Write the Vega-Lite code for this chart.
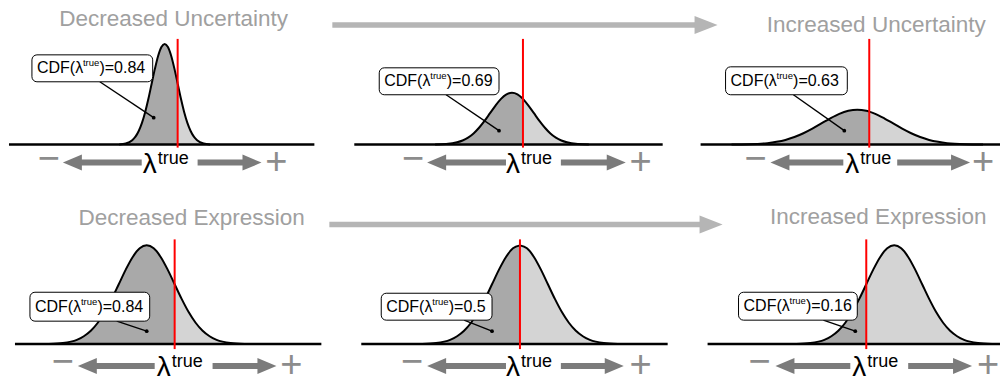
{
"$schema": "https://vega.github.io/schema/vega-lite/v6.json",
"width": 1002, "height": 385,
"autosize": {"type": "fit", "contains": "padding"},
"padding": 0,
"background": "white",
"config": {"view": {"stroke": null}, "axis": {"disable": true}, "legend": {"disable": true}, "font": "Liberation Sans"},
"datasets": {
"curves": [
{"c":1,"s":"L","x":119.5,"y":240.2,"b":240},{"c":1,"s":"L","x":126,"y":241.1,"b":240},{"c":1,"s":"L","x":132.5,"y":244.4,"b":240},{"c":1,"s":"L","x":135.75,"y":248,"b":240},{"c":1,"s":"L","x":139,"y":253.7,"b":240},{"c":1,"s":"L","x":142.25,"y":261.8,"b":240},{"c":1,"s":"L","x":145.5,"y":272.8,"b":240},{"c":1,"s":"L","x":148.75,"y":286.2,"b":240},{"c":1,"s":"L","x":152,"y":301.3,"b":240},{"c":1,"s":"L","x":155.25,"y":316.2,"b":240},{"c":1,"s":"L","x":158.5,"y":329.1,"b":240},{"c":1,"s":"L","x":161.75,"y":337.9,"b":240},{"c":1,"s":"L","x":165,"y":341,"b":240},{"c":1,"s":"L","x":168.25,"y":337.9,"b":240},{"c":1,"s":"L","x":171.5,"y":329.1,"b":240},{"c":1,"s":"L","x":174.75,"y":316.2,"b":240},{"c":1,"s":"L","x":178,"y":301.3,"b":240},
{"c":1,"s":"R","x":178,"y":301.3,"b":240},{"c":1,"s":"R","x":181.25,"y":286.2,"b":240},{"c":1,"s":"R","x":184.5,"y":272.8,"b":240},{"c":1,"s":"R","x":187.75,"y":261.8,"b":240},{"c":1,"s":"R","x":191,"y":253.7,"b":240},{"c":1,"s":"R","x":194.25,"y":248,"b":240},{"c":1,"s":"R","x":197.5,"y":244.4,"b":240},{"c":1,"s":"R","x":204,"y":241.1,"b":240},{"c":1,"s":"R","x":210.5,"y":240.2,"b":240},
{"c":2,"s":"L","x":436,"y":240.1,"b":240},{"c":2,"s":"L","x":447,"y":240.6,"b":240},{"c":2,"s":"L","x":458,"y":242.3,"b":240},{"c":2,"s":"L","x":463.5,"y":244.1,"b":240},{"c":2,"s":"L","x":469,"y":247,"b":240},{"c":2,"s":"L","x":474.5,"y":251.2,"b":240},{"c":2,"s":"L","x":480,"y":256.9,"b":240},{"c":2,"s":"L","x":485.5,"y":263.8,"b":240},{"c":2,"s":"L","x":491,"y":271.5,"b":240},{"c":2,"s":"L","x":496.5,"y":279.2,"b":240},{"c":2,"s":"L","x":502,"y":285.9,"b":240},{"c":2,"s":"L","x":507.5,"y":290.4,"b":240},{"c":2,"s":"L","x":513,"y":292,"b":240},{"c":2,"s":"L","x":518.5,"y":290.4,"b":240},{"c":2,"s":"L","x":524,"y":285.9,"b":240},
{"c":2,"s":"R","x":524,"y":285.9,"b":240},{"c":2,"s":"R","x":529.5,"y":279.2,"b":240},{"c":2,"s":"R","x":535,"y":271.5,"b":240},{"c":2,"s":"R","x":540.5,"y":263.8,"b":240},{"c":2,"s":"R","x":546,"y":256.9,"b":240},{"c":2,"s":"R","x":551.5,"y":251.2,"b":240},{"c":2,"s":"R","x":557,"y":247,"b":240},{"c":2,"s":"R","x":562.5,"y":244.1,"b":240},{"c":2,"s":"R","x":568,"y":242.3,"b":240},{"c":2,"s":"R","x":579,"y":240.6,"b":240},{"c":2,"s":"R","x":590,"y":240.1,"b":240},
{"c":3,"s":"L","x":733,"y":240.1,"b":240},{"c":3,"s":"L","x":751,"y":240.4,"b":240},{"c":3,"s":"L","x":769,"y":241.5,"b":240},{"c":3,"s":"L","x":778,"y":242.8,"b":240},{"c":3,"s":"L","x":787,"y":244.7,"b":240},{"c":3,"s":"L","x":796,"y":247.6,"b":240},{"c":3,"s":"L","x":805,"y":251.4,"b":240},{"c":3,"s":"L","x":814,"y":256,"b":240},{"c":3,"s":"L","x":823,"y":261.2,"b":240},{"c":3,"s":"L","x":832,"y":266.4,"b":240},{"c":3,"s":"L","x":841,"y":270.9,"b":240},{"c":3,"s":"L","x":850,"y":273.9,"b":240},{"c":3,"s":"L","x":859,"y":275,"b":240},{"c":3,"s":"L","x":868,"y":273.9,"b":240},{"c":3,"s":"L","x":871,"y":273.1,"b":240},
{"c":3,"s":"R","x":871,"y":273.1,"b":240},{"c":3,"s":"R","x":877,"y":270.9,"b":240},{"c":3,"s":"R","x":886,"y":266.4,"b":240},{"c":3,"s":"R","x":895,"y":261.2,"b":240},{"c":3,"s":"R","x":904,"y":256,"b":240},{"c":3,"s":"R","x":913,"y":251.4,"b":240},{"c":3,"s":"R","x":922,"y":247.6,"b":240},{"c":3,"s":"R","x":931,"y":244.7,"b":240},{"c":3,"s":"R","x":940,"y":242.8,"b":240},{"c":3,"s":"R","x":949,"y":241.5,"b":240},{"c":3,"s":"R","x":967,"y":240.4,"b":240},{"c":3,"s":"R","x":985,"y":240.1,"b":240},
{"c":4,"s":"L","x":49,"y":40.2,"b":40},{"c":4,"s":"L","x":63,"y":41.1,"b":40},{"c":4,"s":"L","x":77,"y":44.3,"b":40},{"c":4,"s":"L","x":84,"y":47.9,"b":40},{"c":4,"s":"L","x":91,"y":53.4,"b":40},{"c":4,"s":"L","x":98,"y":61.4,"b":40},{"c":4,"s":"L","x":105,"y":72.1,"b":40},{"c":4,"s":"L","x":112,"y":85.3,"b":40},{"c":4,"s":"L","x":119,"y":100,"b":40},{"c":4,"s":"L","x":126,"y":114.7,"b":40},{"c":4,"s":"L","x":133,"y":127.4,"b":40},{"c":4,"s":"L","x":140,"y":136,"b":40},{"c":4,"s":"L","x":147,"y":139,"b":40},{"c":4,"s":"L","x":154,"y":136,"b":40},{"c":4,"s":"L","x":161,"y":127.4,"b":40},{"c":4,"s":"L","x":168,"y":114.7,"b":40},{"c":4,"s":"L","x":175,"y":100,"b":40},
{"c":4,"s":"R","x":175,"y":100,"b":40},{"c":4,"s":"R","x":182,"y":85.3,"b":40},{"c":4,"s":"R","x":189,"y":72.1,"b":40},{"c":4,"s":"R","x":196,"y":61.4,"b":40},{"c":4,"s":"R","x":203,"y":53.4,"b":40},{"c":4,"s":"R","x":210,"y":47.9,"b":40},{"c":4,"s":"R","x":217,"y":44.3,"b":40},{"c":4,"s":"R","x":231,"y":41.1,"b":40},{"c":4,"s":"R","x":245,"y":40.2,"b":40},
{"c":5,"s":"L","x":423,"y":40.2,"b":40},{"c":5,"s":"L","x":437,"y":41.1,"b":40},{"c":5,"s":"L","x":451,"y":44.3,"b":40},{"c":5,"s":"L","x":458,"y":47.9,"b":40},{"c":5,"s":"L","x":465,"y":53.4,"b":40},{"c":5,"s":"L","x":472,"y":61.4,"b":40},{"c":5,"s":"L","x":479,"y":72.1,"b":40},{"c":5,"s":"L","x":486,"y":85.3,"b":40},{"c":5,"s":"L","x":493,"y":100,"b":40},{"c":5,"s":"L","x":500,"y":114.7,"b":40},{"c":5,"s":"L","x":507,"y":127.4,"b":40},{"c":5,"s":"L","x":514,"y":136,"b":40},{"c":5,"s":"L","x":521,"y":139,"b":40},
{"c":5,"s":"R","x":521,"y":139,"b":40},{"c":5,"s":"R","x":528,"y":136,"b":40},{"c":5,"s":"R","x":535,"y":127.4,"b":40},{"c":5,"s":"R","x":542,"y":114.7,"b":40},{"c":5,"s":"R","x":549,"y":100,"b":40},{"c":5,"s":"R","x":556,"y":85.3,"b":40},{"c":5,"s":"R","x":563,"y":72.1,"b":40},{"c":5,"s":"R","x":570,"y":61.4,"b":40},{"c":5,"s":"R","x":577,"y":53.4,"b":40},{"c":5,"s":"R","x":584,"y":47.9,"b":40},{"c":5,"s":"R","x":591,"y":44.3,"b":40},{"c":5,"s":"R","x":605,"y":41.1,"b":40},{"c":5,"s":"R","x":619,"y":40.2,"b":40},
{"c":6,"s":"L","x":798,"y":40.2,"b":40},{"c":6,"s":"L","x":812,"y":41.1,"b":40},{"c":6,"s":"L","x":826,"y":44.3,"b":40},{"c":6,"s":"L","x":833,"y":47.9,"b":40},{"c":6,"s":"L","x":840,"y":53.4,"b":40},{"c":6,"s":"L","x":847,"y":61.4,"b":40},{"c":6,"s":"L","x":854,"y":72.1,"b":40},{"c":6,"s":"L","x":861,"y":85.3,"b":40},{"c":6,"s":"L","x":868,"y":100,"b":40},
{"c":6,"s":"R","x":868,"y":100,"b":40},{"c":6,"s":"R","x":875,"y":114.7,"b":40},{"c":6,"s":"R","x":882,"y":127.4,"b":40},{"c":6,"s":"R","x":889,"y":136,"b":40},{"c":6,"s":"R","x":896,"y":139,"b":40},{"c":6,"s":"R","x":903,"y":136,"b":40},{"c":6,"s":"R","x":910,"y":127.4,"b":40},{"c":6,"s":"R","x":917,"y":114.7,"b":40},{"c":6,"s":"R","x":924,"y":100,"b":40},{"c":6,"s":"R","x":931,"y":85.3,"b":40},{"c":6,"s":"R","x":938,"y":72.1,"b":40},{"c":6,"s":"R","x":945,"y":61.4,"b":40},{"c":6,"s":"R","x":952,"y":53.4,"b":40},{"c":6,"s":"R","x":959,"y":47.9,"b":40},{"c":6,"s":"R","x":966,"y":44.3,"b":40},{"c":6,"s":"R","x":980,"y":41.1,"b":40},{"c":6,"s":"R","x":994,"y":40.2,"b":40}
],
"panels": [
{"c":1,"base":240,"bx1":9,"bx2":315,"red":178,"rt":346,"rb":237,"lx1":32,"lx2":153,"ly1":330,"ly2":303,"lym":316.5,"t1":"CDF(λ","t2":"true","t3":")=0.84","px1":100,"py1":303,"px2":154,"py2":267,"ay":222,"lamy":212,"truey":221,"mx":49,"lh":72.5,"ls2":142,"lam":143,"tr":158,"rs1":198,"rh":252.5,"plx":277,"minus":"−","plus":"+","lambda":"λ"},
{"c":2,"base":240,"bx1":355,"bx2":664,"red":524,"rt":346,"rb":237,"lx1":380,"lx2":500,"ly1":317,"ly2":290,"lym":303.5,"t1":"CDF(λ","t2":"true","t3":")=0.69","px1":447,"py1":290,"px2":500,"py2":254,"ay":222,"lamy":212,"truey":221,"mx":414,"lh":437.5,"ls2":507,"lam":507,"tr":522,"rs1":562,"rh":617.5,"plx":642,"minus":"−","plus":"+","lambda":"λ"},
{"c":3,"base":240,"bx1":702,"bx2":1002,"red":871,"rt":346,"rb":237,"lx1":727,"lx2":849,"ly1":318,"ly2":290,"lym":304,"t1":"CDF(λ","t2":"true","t3":")=0.63","px1":795,"py1":290,"px2":846,"py2":254,"ay":222,"lamy":212,"truey":221,"mx":757,"lh":781.5,"ls2":845,"lam":847,"tr":862,"rs1":899,"rh":962.5,"plx":985,"minus":"−","plus":"+","lambda":"λ"},
{"c":4,"base":40,"bx1":15,"bx2":322,"red":175,"rt":145,"rb":35,"lx1":30,"lx2":150,"ly1":92,"ly2":63,"lym":77.5,"t1":"CDF(λ","t2":"true","t3":")=0.84","px1":117,"py1":63,"px2":147,"py2":53,"ay":18,"lamy":8,"truey":17,"mx":63,"lh":87.5,"ls2":155,"lam":157,"tr":172,"rs1":213,"rh":267.5,"plx":292,"minus":"−","plus":"+","lambda":"λ"},
{"c":5,"base":40,"bx1":362,"bx2":669,"red":521,"rt":145,"rb":35,"lx1":382,"lx2":493,"ly1":91,"ly2":64,"lym":77.5,"t1":"CDF(λ","t2":"true","t3":")=0.5","px1":465,"py1":64,"px2":493,"py2":53,"ay":18,"lamy":8,"truey":17,"mx":413,"lh":437.5,"ls2":507,"lam":507,"tr":522,"rs1":562,"rh":615.5,"plx":642,"minus":"−","plus":"+","lambda":"λ"},
{"c":6,"base":40,"bx1":709,"bx2":1002,"red":868,"rt":145,"rb":35,"lx1":740,"lx2":859,"ly1":92,"ly2":64,"lym":78,"t1":"CDF(λ","t2":"true","t3":")=0.16","px1":825,"py1":64,"px2":857,"py2":53,"ay":18,"lamy":8,"truey":17,"mx":761,"lh":786.5,"ls2":852,"lam":854,"tr":869,"rs1":910,"rh":964.5,"plx":990,"minus":"−","plus":"+","lambda":"λ"}
],
"titles": [
{"t":"Decreased Uncertainty","x":174,"y":359},
{"t":"Increased Uncertainty","x":878,"y":353},
{"t":"Decreased Expression","x":192,"y":159},
{"t":"Increased Expression","x":880,"y":160}
],
"bigArrows": [
{"x1":333,"x2":700,"y":360,"hx":707.5},
{"x1":330,"x2":705,"y":160,"hx":712.5}
]
},
"layer": [
{"data":{"name":"curves"},"mark":{"type":"area","interpolate":"monotone"},
 "encoding":{"x":{"field":"x","type":"quantitative","scale":{"domain":[0,1002],"nice":false,"zero":false}},
  "y":{"field":"y","type":"quantitative","scale":{"domain":[0,385],"nice":false,"zero":false}},
  "y2":{"field":"b"},
  "color":{"field":"s","type":"nominal","scale":{"domain":["L","R"],"range":["#a9a9a9","#d4d4d4"]},"legend":null},
  "detail":{"field":"c","type":"nominal"}}},
{"data":{"name":"curves"},"mark":{"type":"line","interpolate":"monotone","color":"black","strokeWidth":2},
 "encoding":{"x":{"field":"x","type":"quantitative"},"y":{"field":"y","type":"quantitative"},
  "detail":[{"field":"c","type":"nominal"},{"field":"s","type":"nominal"}]}},
{"data":{"name":"panels"},"mark":{"type":"rule","color":"black","strokeWidth":2.5},
 "encoding":{"x":{"field":"bx1","type":"quantitative"},"x2":{"field":"bx2"},"y":{"field":"base","type":"quantitative"}}},
{"data":{"name":"panels"},"mark":{"type":"rule","color":"#ff0000","strokeWidth":2},
 "encoding":{"x":{"field":"red","type":"quantitative"},"y":{"field":"rt","type":"quantitative"},"y2":{"field":"rb"}}},
{"data":{"name":"panels"},"mark":{"type":"rule","color":"black","strokeWidth":1.4},
 "encoding":{"x":{"field":"px1","type":"quantitative"},"y":{"field":"py1","type":"quantitative"},"x2":{"field":"px2"},"y2":{"field":"py2"}}},
{"data":{"name":"panels"},"mark":{"type":"point","filled":true,"color":"black","size":14,"opacity":1},
 "encoding":{"x":{"field":"px2","type":"quantitative"},"y":{"field":"py2","type":"quantitative"}}},
{"data":{"name":"panels"},"mark":{"type":"rect","fill":"white","stroke":"black","strokeWidth":1,"cornerRadius":5},
 "encoding":{"x":{"field":"lx1","type":"quantitative"},"x2":{"field":"lx2"},"y":{"field":"ly1","type":"quantitative"},"y2":{"field":"ly2"}}},
{"data":{"name":"panels"},"mark":{"type":"text","align":"left","baseline":"middle","dx":5,"fontSize":16,"color":"black"},
 "encoding":{"x":{"field":"lx1","type":"quantitative"},"y":{"field":"lym","type":"quantitative"},"text":{"field":"t1"}}},
{"data":{"name":"panels"},"mark":{"type":"text","align":"left","baseline":"middle","dx":51,"dy":-5,"fontSize":9.5,"color":"black"},
 "encoding":{"x":{"field":"lx1","type":"quantitative"},"y":{"field":"lym","type":"quantitative"},"text":{"field":"t2"}}},
{"data":{"name":"panels"},"mark":{"type":"text","align":"left","baseline":"middle","dx":67.5,"fontSize":16,"color":"black"},
 "encoding":{"x":{"field":"lx1","type":"quantitative"},"y":{"field":"lym","type":"quantitative"},"text":{"field":"t3"}}},
{"data":{"name":"panels"},"mark":{"type":"rule","color":"#7b7b7b","strokeWidth":6},
 "encoding":{"x":{"field":"lh","type":"quantitative"},"x2":{"field":"ls2"},"y":{"field":"ay","type":"quantitative"}}},
{"data":{"name":"panels"},"mark":{"type":"rule","color":"#7b7b7b","strokeWidth":6},
 "encoding":{"x":{"field":"rs1","type":"quantitative"},"x2":{"field":"rh"},"y":{"field":"ay","type":"quantitative"}}},
{"data":{"name":"panels"},"mark":{"type":"point","filled":true,"color":"#7b7b7b","opacity":1,"size":361,"shape":"M-1,0L1,-0.84L1,0.84Z"},
 "encoding":{"x":{"field":"lh","type":"quantitative"},"y":{"field":"ay","type":"quantitative"}}},
{"data":{"name":"panels"},"mark":{"type":"point","filled":true,"color":"#7b7b7b","opacity":1,"size":361,"shape":"M1,0L-1,-0.84L-1,0.84Z"},
 "encoding":{"x":{"field":"rh","type":"quantitative"},"y":{"field":"ay","type":"quantitative"}}},
{"data":{"name":"panels"},"mark":{"type":"text","align":"center","baseline":"middle","fontSize":38,"dy":-3,"color":"#8c8c8c"},
 "encoding":{"x":{"field":"mx","type":"quantitative"},"y":{"field":"ay","type":"quantitative"},"text":{"field":"minus"}}},
{"data":{"name":"panels"},"mark":{"type":"text","align":"center","baseline":"middle","fontSize":38,"color":"#8c8c8c"},
 "encoding":{"x":{"field":"plx","type":"quantitative"},"y":{"field":"ay","type":"quantitative"},"text":{"field":"plus"}}},
{"data":{"name":"panels"},"mark":{"type":"text","align":"left","baseline":"alphabetic","fontSize":28,"color":"black"},
 "encoding":{"x":{"field":"lam","type":"quantitative"},"y":{"field":"lamy","type":"quantitative"},"text":{"field":"lambda"}}},
{"data":{"name":"panels"},"mark":{"type":"text","align":"left","baseline":"alphabetic","fontSize":18,"color":"black"},
 "encoding":{"x":{"field":"tr","type":"quantitative"},"y":{"field":"truey","type":"quantitative"},"text":{"field":"t2"}}},
{"data":{"name":"titles"},"mark":{"type":"text","align":"center","baseline":"alphabetic","fontSize":22.5,"color":"#a0a0a0"},
 "encoding":{"x":{"field":"x","type":"quantitative"},"y":{"field":"y","type":"quantitative"},"text":{"field":"t"}}},
{"data":{"name":"bigArrows"},"mark":{"type":"rule","color":"#b5b5b5","strokeWidth":5.5},
 "encoding":{"x":{"field":"x1","type":"quantitative"},"x2":{"field":"x2"},"y":{"field":"y","type":"quantitative"}}},
{"data":{"name":"bigArrows"},"mark":{"type":"point","filled":true,"color":"#b5b5b5","opacity":1,"size":529,"shape":"M1,0L-1,-0.78L-1,0.78Z"},
 "encoding":{"x":{"field":"hx","type":"quantitative"},"y":{"field":"y","type":"quantitative"}}}
]
}
